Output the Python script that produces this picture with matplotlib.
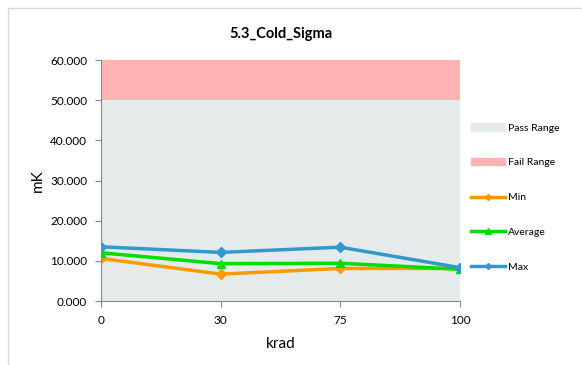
import matplotlib.pyplot as plt
from matplotlib.patches import Rectangle
from matplotlib.lines import Line2D

plt.rcParams['font.family'] = ['Lato', 'DejaVu Sans']

categories = ['0', '30', '75', '100']
pass_range = [50, 50, 50, 50]
fail_range = [10, 10, 10, 10]
min_vals = [10.6, 6.7, 8.1, 8.1]
avg_vals = [12.0, 9.3, 9.4, 7.9]
max_vals = [13.5, 12.1, 13.4, 8.3]

fig = plt.figure(figsize=(5.82, 3.65), dpi=100)
fig.add_artist(Rectangle((8 / 582, -0.01), 1.0, 1 - 8 / 365 + 0.01, transform=fig.transFigure,
                         fill=False, edgecolor='#d9d9d9', lw=1))
ax = fig.add_axes([101 / 582, 1 - 301 / 365, 359 / 582, 241 / 365])

x = range(len(categories))
ax.stackplot(x, pass_range, fail_range, colors=['#e5ebeb', '#ffb3b3'], lw=0)
ax.plot(x, min_vals, color='#ff9900', lw=2.5, marker='D', ms=5)
ax.plot(x, avg_vals, color='#00dd00', lw=2.5, marker='^', ms=6)
ax.plot(x, max_vals, color='#3399cc', lw=2.5, marker='D', ms=5)

ax.set_xlim(0, 3)
ax.set_ylim(0, 60)
ax.set_xticks(list(x))
ax.set_xticklabels(categories)
ax.set_yticks(range(0, 61, 10))
ax.set_yticklabels([f'{v:.3f}' for v in range(0, 61, 10)])
ax.tick_params(labelsize=8.5, direction='out', color='#888888', length=4, pad=6)
for s in ['top', 'right']:
    ax.spines[s].set_visible(False)
for s in ['left', 'bottom']:
    ax.spines[s].set_color('#888888')
ax.set_xlabel('krad', fontsize=11, labelpad=8)
ax.set_ylabel('mK', fontsize=11)
ax.set_title('5.3_Cold_Sigma', fontsize=10.5, fontweight='bold', pad=16)

handles = [
    Rectangle((0, 0), 1, 1, color='#e5ebeb'),
    Rectangle((0, 0), 1, 1, color='#ffb3b3'),
    Line2D([], [], color='#ff9900', lw=2.5, marker='D', ms=3),
    Line2D([], [], color='#00dd00', lw=2.5, marker='^', ms=4),
    Line2D([], [], color='#3399cc', lw=2.5, marker='D', ms=3),
]
labels = ['Pass Range', 'Fail Range', 'Min', 'Average', 'Max']
fig.legend(handles, labels, loc='upper left', bbox_to_anchor=(462 / 582, 1 - 114 / 365),
           frameon=False, fontsize=7.5, labelspacing=2.45, handlelength=3.2, handletextpad=0.3)

fig.savefig('out.png', dpi=100)
